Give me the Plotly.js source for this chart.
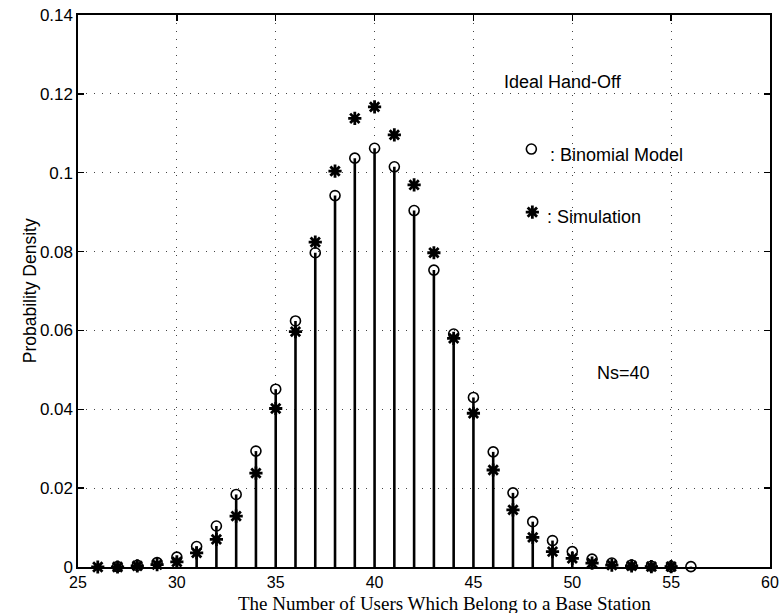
<!DOCTYPE html>
<html>
<head>
<meta charset="utf-8">
<script src="https://cdn.plot.ly/plotly-3.0.1.min.js"></script>
<style>
  html, body { margin: 0; padding: 0; background: #fff; }
  #chart { width: 783px; height: 613px; }
</style>
</head>
<body>
<div id="chart"></div>
<script>
// Number of users in a cell (binomial model vs. simulation), Ns = 40
const binomUsers = [27, 28, 29, 30, 31, 32, 33, 34, 35, 36, 37, 38, 39, 40, 41,
                    42, 43, 44, 45, 46, 47, 48, 49, 50, 51, 52, 53, 54, 55, 56];
const binomProb  = [0.0001, 0.0004, 0.0011, 0.0025, 0.0052, 0.0104, 0.0184, 0.0294,
                    0.0451, 0.0624, 0.0797, 0.0942, 0.1037, 0.1062, 0.1015, 0.0904,
                    0.0753, 0.0591, 0.0430, 0.0292, 0.0188, 0.0115, 0.0067, 0.0039,
                    0.0020, 0.0010, 0.0005, 0.0002, 0.0001, 0.0001];

const simUsers = [26, 27, 28, 29, 30, 31, 32, 33, 34, 35, 36, 37, 38, 39, 40,
                  41, 42, 43, 44, 45, 46, 47, 48, 49, 50, 51, 52, 53, 54, 55];
const simProb  = [0.0000, 0.0000, 0.0003, 0.0006, 0.0013, 0.0036, 0.0070, 0.0129,
                  0.0238, 0.0402, 0.0597, 0.0824, 0.1004, 0.1138, 0.1167, 0.1096,
                  0.0969, 0.0797, 0.0580, 0.0390, 0.0246, 0.0145, 0.0075, 0.0039,
                  0.0022, 0.0010, 0.0005, 0.0003, 0.0001, 0.0001];

const xTicks = [25, 30, 35, 40, 45, 50, 55, 60];
const yTicks = [0, 0.02, 0.04, 0.06, 0.08, 0.1, 0.12, 0.14];
const yTickText = ['0', '0.02', '0.04', '0.06', '0.08', '0.1', '0.12', '0.14'];

// Stem lines: one vertical segment per binomial point, from 0 up to its value
const stemX = [], stemY = [];
binomUsers.forEach((u, i) => {
  stemX.push(u, u, null);
  stemY.push(0, binomProb[i], null);
});

const sans = 'Liberation Sans, Arial, Helvetica, sans-serif';
const serif = 'Liberation Serif, Times New Roman, Times, serif';

const circleMarker = { symbol: 'circle-open', size: 10, color: '#000', line: { width: 1.6, color: '#000' } };
const starMarker = { symbol: 'asterisk-open', size: 11, color: '#000', line: { width: 2.8, color: '#000' } };

const traces = [
  {
    x: stemX, y: stemY, type: 'scatter', mode: 'lines',
    line: { color: '#000', width: 2.6 },
    hoverinfo: 'skip', showlegend: false, cliponaxis: false
  },
  {
    x: binomUsers, y: binomProb, type: 'scatter', mode: 'markers',
    name: 'Binomial Model', marker: circleMarker,
    showlegend: false, cliponaxis: false
  },
  {
    x: simUsers, y: simProb, type: 'scatter', mode: 'markers',
    name: 'Simulation', marker: starMarker,
    showlegend: false, cliponaxis: false
  },
  // key symbols drawn next to the in-plot labels
  {
    x: [47.93], y: [0.106], type: 'scatter', mode: 'markers',
    marker: circleMarker, hoverinfo: 'skip', showlegend: false
  },
  {
    x: [47.98], y: [0.090], type: 'scatter', mode: 'markers',
    marker: starMarker, hoverinfo: 'skip', showlegend: false
  }
];

const gridDash = '1px,7px';

const layout = {
  width: 783, height: 613,
  margin: { l: 78, r: 13, t: 15, b: 46 },
  paper_bgcolor: '#fff', plot_bgcolor: '#fff',
  font: { family: sans, size: 16, color: '#000' },
  xaxis: {
    range: [25, 60],
    tickmode: 'array', tickvals: xTicks, ticktext: xTicks.map(String),
    ticks: 'inside', ticklen: 6, tickwidth: 1.3, tickcolor: '#000',
    showline: true, linecolor: '#000', linewidth: 1.6, mirror: 'ticks',
    showgrid: true, gridcolor: '#444', gridwidth: 1, griddash: gridDash,
    zeroline: false,
    tickfont: { family: sans, size: 16, color: '#000' }
  },
  yaxis: {
    range: [0, 0.14],
    tickmode: 'array', tickvals: yTicks, ticktext: yTickText,
    ticks: 'inside', ticklen: 6, tickwidth: 1.3, tickcolor: '#000',
    showline: true, linecolor: '#000', linewidth: 1.6, mirror: 'ticks',
    showgrid: true, gridcolor: '#444', gridwidth: 1, griddash: gridDash,
    zeroline: false,
    tickfont: { family: sans, size: 17, color: '#000' }
  },
  annotations: [
    {
      text: 'The Number of Users Which Belong to a Base Station',
      xref: 'paper', yref: 'paper', x: 0.53, y: -0.066,
      xanchor: 'center', yanchor: 'middle', showarrow: false,
      font: { family: serif, size: 19, color: '#000' }
    },
    {
      text: 'Probability Density',
      xref: 'paper', yref: 'paper', x: -0.069, y: 0.5,
      xanchor: 'center', yanchor: 'middle', textangle: -90, showarrow: false,
      font: { family: sans, size: 17.5, color: '#000' }
    },
    {
      text: 'Ideal Hand-Off', xref: 'x', yref: 'y', x: 46.45, y: 0.123,
      xanchor: 'left', yanchor: 'middle', showarrow: false,
      font: { family: sans, size: 18, color: '#000' }
    },
    {
      text: ': Binomial Model', xref: 'x', yref: 'y', x: 48.75, y: 0.1045,
      xanchor: 'left', yanchor: 'middle', showarrow: false,
      font: { family: sans, size: 18, color: '#000' }
    },
    {
      text: ': Simulation', xref: 'x', yref: 'y', x: 48.6, y: 0.0888,
      xanchor: 'left', yanchor: 'middle', showarrow: false,
      font: { family: sans, size: 18, color: '#000' }
    },
    {
      text: 'Ns=40', xref: 'x', yref: 'y', x: 51.15, y: 0.0492,
      xanchor: 'left', yanchor: 'middle', showarrow: false,
      font: { family: sans, size: 18, color: '#000' }
    }
  ]
};

Plotly.newPlot('chart', traces, layout, { displayModeBar: false, staticPlot: true });
</script>
</body>
</html>
